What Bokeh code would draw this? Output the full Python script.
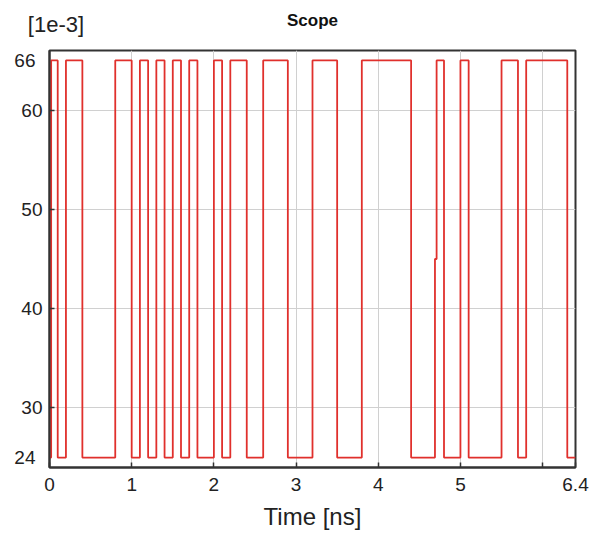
from bokeh.plotting import figure
from bokeh.models import Range1d, FixedTicker, LinearAxis
from bokeh.embed import file_html
from bokeh.resources import INLINE

# Signal edges (ns) and level after each edge (1e-3 units)
t_edges = [0.0, 0.02, 0.1, 0.2, 0.4, 0.8, 1.0, 1.1, 1.2, 1.3, 1.4, 1.5, 1.6, 1.7,
           1.8, 2.0, 2.1, 2.2, 2.4, 2.6, 2.9, 3.2, 3.5, 3.8, 4.4, 4.69, 4.71,
           4.8, 5.0, 5.1, 5.5, 5.7, 5.8, 6.3, 6.4]
levels = [25, 65, 25, 65, 25, 65, 25, 65, 25, 65, 25, 65, 25, 65,
          25, 65, 25, 65, 25, 65, 25, 65, 25, 65, 25, 45, 65,
          25, 65, 25, 65, 25, 65, 25, 25]

x_ticks = [0, 1, 2, 3, 4, 5, 6, 6.4]
x_tick_labels = ["0", "1", "2", "3", "4", "5", "", "6.4"]
x_grid_ticks = [1, 2, 3, 4, 5, 6]
y_ticks = [30, 40, 50, 60]
y_limit_ticks = [65, 25]
y_limit_labels = ["66", "24"]
x_min, x_max = 0, 6.4
y_min, y_max = 24, 66
title_ticks = [0.079, 3.2]
unit_label = "[1e-3]"
title_text = "Scope"
x_label = "Time [ns]"

FONT = "Liberation Sans"
TXT = "#222222"

p = figure(width=592, height=536, output_backend="svg", toolbar_location=None,
           x_range=Range1d(x_min, x_max), y_range=Range1d(y_min, y_max),
           title=None, min_border_left=49, min_border_right=17,
           min_border_top=50, min_border_bottom=69)

p.step(x=t_edges, y=levels, mode="after", line_color="#e0302c", line_width=1.8)

p.xaxis.ticker = FixedTicker(ticks=x_ticks)
p.xaxis.major_label_overrides = dict(zip(x_ticks, x_tick_labels))
p.yaxis.ticker = FixedTicker(ticks=y_ticks)
p.xgrid.ticker = FixedTicker(ticks=x_grid_ticks)
p.ygrid.ticker = FixedTicker(ticks=y_ticks)
p.grid.grid_line_color = "#d0d0d0"
p.grid.grid_line_width = 1

for ax in (p.xaxis, p.yaxis):
    ax.axis_line_color = "#333333"
    ax.axis_line_width = 2
    ax.major_tick_in = 5
    ax.major_tick_out = 0
    ax.major_tick_line_color = "#333333"
    ax.major_tick_line_width = 1.5
    ax.minor_tick_line_color = None
    ax.major_label_text_font = FONT
    ax.major_label_text_font_size = "19px"
    ax.major_label_text_color = TXT
p.xaxis.major_label_standoff = 10
p.yaxis.major_label_standoff = 7
p.xaxis.axis_label = x_label
p.xaxis.axis_label_text_font = FONT
p.xaxis.axis_label_text_font_size = "24px"
p.xaxis.axis_label_text_font_style = "normal"
p.xaxis.axis_label_text_color = TXT
p.xaxis.axis_label_standoff = 9


def text_axis(ticks, labels, standoff, bold=False, size="19px"):
    ax = LinearAxis(ticker=FixedTicker(ticks=ticks),
                    major_label_overrides=dict(zip(ticks, labels)))
    ax.axis_line_color = None
    ax.major_tick_line_color = None
    ax.minor_tick_line_color = None
    ax.major_tick_in = 0
    ax.major_tick_out = 0
    ax.major_label_standoff = standoff
    ax.major_label_text_font = FONT
    ax.major_label_text_font_size = size
    ax.major_label_text_color = "#111111" if bold else TXT
    ax.major_label_text_font_style = "bold" if bold else "normal"
    return ax


# Limits of the y range, shown beside the left axis
p.add_layout(text_axis(y_limit_ticks, y_limit_labels, -17), "left")
# Unit and title rows above the frame
p.add_layout(text_axis([title_ticks[0]], [unit_label], 14, size="22px"), "above")
p.add_layout(text_axis([title_ticks[1]], [title_text], -21, bold=True, size="17px"), "above")

p.outline_line_color = "#333333"
p.outline_line_width = 2
p.background_fill_color = "white"
p.border_fill_color = "white"

open("out.html", "w").write(file_html(p, INLINE))
